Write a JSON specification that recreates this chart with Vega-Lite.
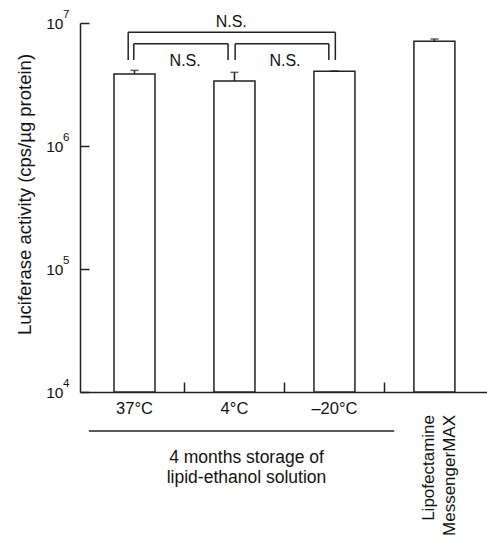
{
  "$schema": "https://vega.github.io/schema/vega-lite/v6.json",
  "width": 407,
  "height": 369,
  "autosize": {"type": "none"},
  "padding": {"left": 80, "top": 23, "right": 0, "bottom": 146},
  "background": "white",
  "config": {
    "view": {"stroke": null},
    "font": "Liberation Sans",
    "axis": {"domainColor": "#222", "tickColor": "#222", "labelColor": "#111", "titleColor": "#111", "grid": false, "domainWidth": 1.5, "tickWidth": 1.5}
  },
  "datasets": {
    "bars": [
      {"pos": 1, "group": "37°C", "value": 3850000, "upper": 4120000},
      {"pos": 2, "group": "4°C", "value": 3370000, "upper": 3970000},
      {"pos": 3, "group": "–20°C", "value": 4050000, "upper": 4080000},
      {"pos": 4, "group": "Lipofectamine\nMessengerMAX", "value": 7100000, "upper": 7410000}
    ],
    "exps": [
      {"v": 10000, "e": "4"},
      {"v": 100000, "e": "5"},
      {"v": 1000000, "e": "6"},
      {"v": 10000000, "e": "7"}
    ],
    "brackets": [
      {"xa": 0.937, "xb": 3.009, "ya": 8400000, "yb": 8400000},
      {"xa": 0.937, "xb": 0.937, "ya": 8400000, "yb": 5000000},
      {"xa": 3.009, "xb": 3.009, "ya": 8400000, "yb": 5000000},
      {"xa": 0.993, "xb": 1.936, "ya": 6790000, "yb": 6790000},
      {"xa": 0.993, "xb": 0.993, "ya": 6790000, "yb": 5000000},
      {"xa": 1.936, "xb": 1.936, "ya": 6790000, "yb": 5000000},
      {"xa": 2.007, "xb": 2.944, "ya": 6790000, "yb": 6790000},
      {"xa": 2.007, "xb": 2.007, "ya": 6790000, "yb": 5000000},
      {"xa": 2.944, "xb": 2.944, "ya": 6790000, "yb": 5000000},
      {"xa": 0.544, "xb": 3.598, "ya": 4820, "yb": 4820}
    ],
    "ns": [
      {"xc": 1.968, "yc": 10250000, "t": "N.S."},
      {"xc": 1.507, "yc": 4940000, "t": "N.S."},
      {"xc": 2.505, "yc": 4940000, "t": "N.S."}
    ]
  },
  "layer": [
    {
      "data": {"name": "bars"},
      "mark": {"type": "bar", "width": 41, "fill": "white", "stroke": "#222", "strokeWidth": 1.5},
      "encoding": {
        "x": {
          "field": "pos", "type": "quantitative",
          "scale": {"domain": [0.505, 4.476], "nice": false, "zero": false},
          "axis": {
            "values": [1.5, 2.5, 3.5], "tickSize": -10, "labels": false,
            "title": ["4 months storage of", "lipid-ethanol solution"],
            "titleX": 166, "titleY": 65, "titleAlign": "center", "titleBaseline": "middle",
            "titleFontSize": 17.5, "titleFontWeight": "normal", "titleLineHeight": 20
          }
        },
        "y": {
          "field": "value", "type": "quantitative",
          "scale": {"type": "log", "domain": [10000, 10000000], "nice": false},
          "axis": {
            "values": [10000, 100000, 1000000, 10000000], "tickSize": -9, "labelPadding": 26,
            "labelFontSize": 15.5, "labelBaseline": "middle",
            "labelExpr": "'10'",
            "title": "Luciferase activity (cps/µg protein)",
            "titleFontSize": 18.5, "titleFontWeight": "normal", "titleAngle": -90,
            "titleX": -56, "titleY": 171, "titleAlign": "center", "titleBaseline": "middle"
          }
        },
        "y2": {"datum": 10000}
      }
    },
    {
      "data": {"name": "exps"},
      "mark": {"type": "text", "fontSize": 11.5, "align": "left", "baseline": "middle", "dy": -8, "color": "#111"},
      "encoding": {
        "x": {"datum": 0.285},
        "y": {"field": "v", "type": "quantitative"},
        "text": {"field": "e"}
      }
    },
    {
      "data": {"name": "bars"},
      "mark": {"type": "rule", "stroke": "#222", "strokeWidth": 1.5},
      "encoding": {
        "x": {"field": "pos", "type": "quantitative"},
        "y": {"field": "value", "type": "quantitative"},
        "y2": {"field": "upper"}
      }
    },
    {
      "data": {"name": "bars"},
      "mark": {"type": "tick", "orient": "horizontal", "size": 8, "thickness": 1.5, "color": "#222"},
      "encoding": {
        "x": {"field": "pos", "type": "quantitative"},
        "y": {"field": "upper", "type": "quantitative"}
      }
    },
    {
      "data": {"name": "bars"},
      "transform": [{"filter": "datum.pos < 4"}],
      "mark": {"type": "text", "fontSize": 16.5, "baseline": "middle", "align": "center", "color": "#111"},
      "encoding": {
        "x": {"field": "pos", "type": "quantitative"},
        "y": {"datum": 7280},
        "text": {"field": "group"}
      }
    },
    {
      "data": {"name": "bars"},
      "transform": [{"filter": "datum.pos == 4"}],
      "mark": {"type": "text", "fontSize": 17, "baseline": "middle", "align": "right", "angle": 270, "lineBreak": "\n", "lineHeight": 21, "color": "#111", "dx": 0, "dy": -5},
      "encoding": {
        "x": {"field": "pos", "type": "quantitative"},
        "y": {"datum": 6500},
        "text": {"field": "group"}
      }
    },
    {
      "data": {"name": "brackets"},
      "mark": {"type": "rule", "stroke": "#222", "strokeWidth": 1.5},
      "encoding": {
        "x": {"field": "xa", "type": "quantitative"},
        "x2": {"field": "xb"},
        "y": {"field": "ya", "type": "quantitative"},
        "y2": {"field": "yb"}
      }
    },
    {
      "data": {"name": "ns"},
      "mark": {"type": "text", "fontSize": 16, "baseline": "middle", "align": "center", "color": "#111"},
      "encoding": {
        "x": {"field": "xc", "type": "quantitative"},
        "y": {"field": "yc", "type": "quantitative"},
        "text": {"field": "t"}
      }
    }
  ]
}
